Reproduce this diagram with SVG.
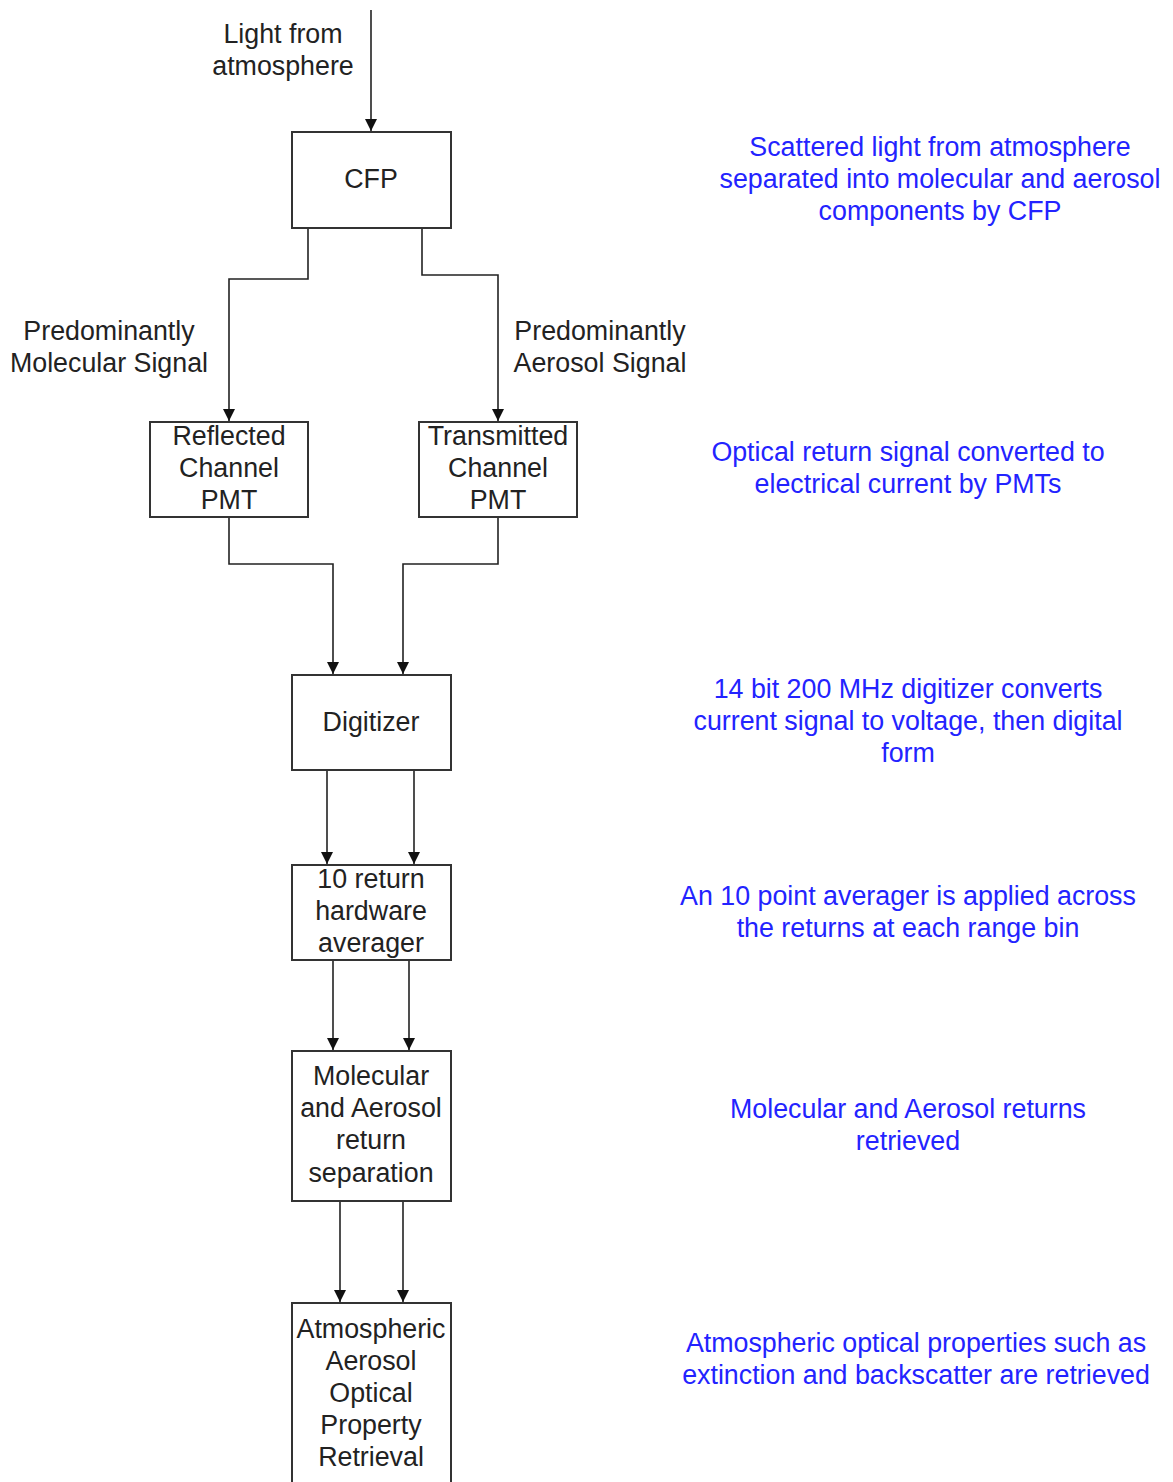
<svg xmlns="http://www.w3.org/2000/svg" width="1173" height="1482" viewBox="0 0 1173 1482">
<style>
.box{fill:#fff;stroke:#333;stroke-width:2}
.t{font-family:"Liberation Sans",Arial,sans-serif;font-size:26.8px;fill:#222;text-anchor:middle;dominant-baseline:central}
.b{font-family:"Liberation Sans",Arial,sans-serif;font-size:26.8px;fill:#2323ff;text-anchor:middle;dominant-baseline:central}
.c{fill:none;stroke:#222;stroke-width:1.6}
</style>
<defs>
<marker id="a" markerUnits="userSpaceOnUse" markerWidth="12" markerHeight="12" viewBox="0 0 12 12" refX="12" refY="6" orient="auto">
<path d="M0,0 L12,6 L0,12 Z" fill="#111"/>
</marker>
</defs>
<rect width="1173" height="1482" fill="#fff"/>
<g id="connectors">
<path class="c" d="M371,10 V131" marker-end="url(#a)"/>
<path class="c" d="M308,228 V279 H229 V421" marker-end="url(#a)"/>
<path class="c" d="M422,228 V275 H498 V421" marker-end="url(#a)"/>
<path class="c" d="M229,517 V564 H333 V674" marker-end="url(#a)"/>
<path class="c" d="M498,517 V564 H403 V674" marker-end="url(#a)"/>
<path class="c" d="M327,770 V864" marker-end="url(#a)"/>
<path class="c" d="M414,770 V864" marker-end="url(#a)"/>
<path class="c" d="M333,960 V1050" marker-end="url(#a)"/>
<path class="c" d="M409,960 V1050" marker-end="url(#a)"/>
<path class="c" d="M340,1201 V1302" marker-end="url(#a)"/>
<path class="c" d="M403,1201 V1302" marker-end="url(#a)"/>
</g>
<g id="labels">
<text class="t" x="283" y="34">Light from</text>
<text class="t" x="283" y="66">atmosphere</text>
<text class="t" x="109" y="331">Predominantly</text>
<text class="t" x="109" y="363">Molecular Signal</text>
<text class="t" x="600" y="331">Predominantly</text>
<text class="t" x="600" y="363">Aerosol Signal</text>
</g>
<g id="cfp">
<rect class="box" x="292" y="132" width="159" height="96"/>
<text class="t" x="371" y="179">CFP</text>
</g>
<g id="reflected">
<rect class="box" x="150" y="422" width="158" height="95"/>
<text class="t" x="229" y="436">Reflected</text>
<text class="t" x="229" y="468">Channel</text>
<text class="t" x="229" y="500">PMT</text>
</g>
<g id="transmitted">
<rect class="box" x="419" y="422" width="158" height="95"/>
<text class="t" x="498" y="436">Transmitted</text>
<text class="t" x="498" y="468">Channel</text>
<text class="t" x="498" y="500">PMT</text>
</g>
<g id="digitizer">
<rect class="box" x="292" y="675" width="159" height="95"/>
<text class="t" x="371" y="722">Digitizer</text>
</g>
<g id="averager">
<rect class="box" x="292" y="865" width="159" height="95"/>
<text class="t" x="371" y="879">10 return</text>
<text class="t" x="371" y="911">hardware</text>
<text class="t" x="371" y="943">averager</text>
</g>
<g id="separation">
<rect class="box" x="292" y="1051" width="159" height="150"/>
<text class="t" x="371" y="1076">Molecular</text>
<text class="t" x="371" y="1108">and Aerosol</text>
<text class="t" x="371" y="1140">return</text>
<text class="t" x="371" y="1173">separation</text>
</g>
<g id="retrieval">
<rect class="box" x="292" y="1303" width="159" height="200"/>
<text class="t" x="371" y="1329">Atmospheric</text>
<text class="t" x="371" y="1361">Aerosol</text>
<text class="t" x="371" y="1393">Optical</text>
<text class="t" x="371" y="1425">Property</text>
<text class="t" x="371" y="1457">Retrieval</text>
</g>
<g id="notes">
<text class="b" x="940" y="147">Scattered light from atmosphere</text>
<text class="b" x="940" y="179">separated into molecular and aerosol</text>
<text class="b" x="940" y="211">components by CFP</text>
<text class="b" x="908" y="452">Optical return signal converted to</text>
<text class="b" x="908" y="484">electrical current by PMTs</text>
<text class="b" x="908" y="689">14 bit 200 MHz digitizer converts</text>
<text class="b" x="908" y="721">current signal to voltage, then digital</text>
<text class="b" x="908" y="753">form</text>
<text class="b" x="908" y="896">An 10 point averager is applied across</text>
<text class="b" x="908" y="928">the returns at each range bin</text>
<text class="b" x="908" y="1109">Molecular and Aerosol returns</text>
<text class="b" x="908" y="1141">retrieved</text>
<text class="b" x="916" y="1343">Atmospheric optical properties such as</text>
<text class="b" x="916" y="1375">extinction and backscatter are retrieved</text>
</g>
</svg>
